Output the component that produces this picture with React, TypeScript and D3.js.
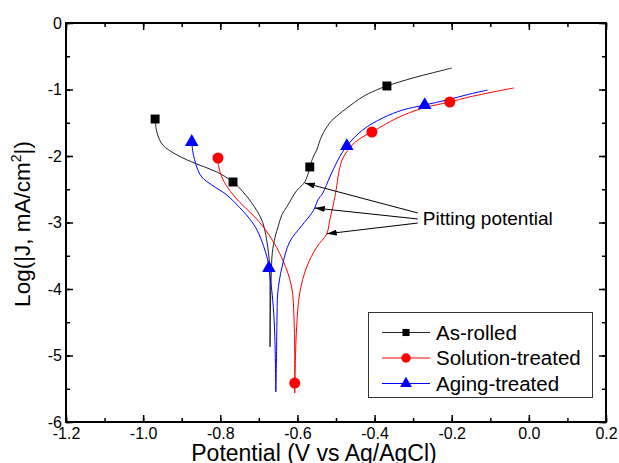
import * as d3 from 'd3';
import React, { useRef, useEffect } from 'react';

const width = 619;
const height = 463;
const margin = {top: 23, right: 13, bottom: 41, left: 66};

// potential (V vs Ag/AgCl), log|J|
const asRolledCathodic = [[-0.969,-1.444],[-0.964,-1.65],[-0.949,-1.835],[-0.912,-1.985],[-0.861,-2.12],[-0.809,-2.24],[-0.767,-2.391],[-0.741,-2.54],[-0.712,-2.76],[-0.690,-3.0],[-0.677,-3.37],[-0.672,-3.67],[-0.671,-4.2],[-0.671,-4.87]];
const asRolledAnodic = [[-0.671,-4.87],[-0.670,-4.3],[-0.668,-3.8],[-0.665,-3.45],[-0.658,-3.22],[-0.650,-3.06],[-0.640,-2.88],[-0.627,-2.76],[-0.614,-2.63],[-0.602,-2.52],[-0.588,-2.44],[-0.580,-2.38],[-0.572,-2.26],[-0.568,-2.165],[-0.558,-2.0],[-0.550,-1.91],[-0.537,-1.70],[-0.516,-1.50],[-0.494,-1.38],[-0.472,-1.28],[-0.431,-1.11],[-0.400,-1.02],[-0.368,-0.947],[-0.301,-0.827],[-0.250,-0.75],[-0.200,-0.677]];

const solutionCathodic = [[-0.806,-2.03],[-0.804,-2.165],[-0.796,-2.316],[-0.780,-2.481],[-0.749,-2.70],[-0.710,-2.92],[-0.672,-3.20],[-0.638,-3.564],[-0.615,-3.97],[-0.609,-4.42],[-0.607,-4.92],[-0.607,-5.414],[-0.607,-5.564]];
const solutionAnodic = [[-0.607,-5.564],[-0.605,-5.0],[-0.602,-4.57],[-0.594,-4.06],[-0.576,-3.67],[-0.550,-3.37],[-0.524,-3.17],[-0.516,-2.96],[-0.503,-2.62],[-0.490,-2.17],[-0.482,-2.03],[-0.470,-1.92],[-0.452,-1.80],[-0.430,-1.71],[-0.407,-1.639],[-0.342,-1.43],[-0.275,-1.28],[-0.205,-1.188],[-0.153,-1.11],[-0.039,-0.977]];

const agingCathodic = [[-0.874,-1.789],[-0.871,-1.94],[-0.861,-2.165],[-0.848,-2.316],[-0.822,-2.436],[-0.783,-2.586],[-0.749,-2.78],[-0.718,-2.99],[-0.700,-3.17],[-0.679,-3.52],[-0.674,-3.684],[-0.664,-4.165],[-0.659,-4.66],[-0.656,-5.549]];
const agingAnodic = [[-0.656,-5.549],[-0.654,-4.9],[-0.653,-4.47],[-0.651,-4.06],[-0.640,-3.67],[-0.620,-3.29],[-0.589,-3.05],[-0.563,-2.86],[-0.555,-2.78],[-0.547,-2.66],[-0.534,-2.556],[-0.516,-2.316],[-0.495,-2.06],[-0.472,-1.85],[-0.431,-1.609],[-0.379,-1.429],[-0.327,-1.308],[-0.270,-1.233],[-0.213,-1.158],[-0.153,-1.068],[-0.107,-1.008]];

const asRolledMarkers = [[-0.969,-1.444],[-0.767,-2.391],[-0.568,-2.165],[-0.368,-0.947]];
const solutionMarkers = [[-0.806,-2.03],[-0.607,-5.414],[-0.407,-1.639],[-0.205,-1.188]];
const agingMarkers = [[-0.874,-1.789],[-0.674,-3.684],[-0.472,-1.85],[-0.270,-1.233]];

const seriesNames = ["As-rolled", "Solution-treated", "Aging-treated"];
const seriesColors = ["#222", "#ff0000", "#0000ff"];
const markerColors = ["#000", "#ff0000", "#0000ff"];
const seriesSymbols = [d3.symbolSquare, d3.symbolCircle, d3.symbolTriangle];

const pittingTips = [[-0.581,-2.406],[-0.555,-2.782],[-0.524,-3.17]];
const pittingTails = [[-0.288,-2.857],[-0.288,-2.947],[-0.288,-3.008]];
const pittingLabel = "Pitting potential";
const pittingLabelAt = [-0.275,-3.038];

const xDomain = [-1.2, 0.2];
const yDomain = [-6, 0];

const font = "'Liberation Sans', Arial, sans-serif";

function App() {
    const ref = useRef(null);

    useEffect(() => {
        const svg = d3.select(ref.current);
        svg.selectAll("*").remove();

        const x = d3.scaleLinear().domain(xDomain).range([margin.left, width - margin.right]);
        const y = d3.scaleLinear().domain(yDomain).range([height - margin.bottom, margin.top]);

        const line = d3.line()
            .x(d => x(d[0]))
            .y(d => y(d[1]))
            .curve(d3.curveCatmullRom.alpha(0.5));

        const branches = [
            [asRolledCathodic, asRolledAnodic],
            [solutionCathodic, solutionAnodic],
            [agingCathodic, agingAnodic]
        ];
        const markers = [asRolledMarkers, solutionMarkers, agingMarkers];
        const symSizes = [80, 95, 80];

        branches.forEach((b, i) => {
            b.forEach(part => {
                svg.append("path")
                    .attr("d", line(part))
                    .attr("fill", "none")
                    .attr("stroke", seriesColors[i])
                    .attr("stroke-width", 1);
            });
        });

        markers.forEach((m, i) => {
            svg.selectAll(".m" + i)
                .data(m)
                .enter()
                .append("path")
                .attr("d", d3.symbol().type(seriesSymbols[i]).size(symSizes[i]))
                .attr("transform", d => "translate(" + x(d[0]) + "," + y(d[1]) + ")")
                .attr("fill", markerColors[i]);
        });

        // arrows for pitting potential
        svg.append("defs").append("marker")
            .attr("id", "arrow")
            .attr("viewBox", "0 0 10 6")
            .attr("refX", 10)
            .attr("refY", 3)
            .attr("markerUnits", "userSpaceOnUse")
            .attr("markerWidth", 10)
            .attr("markerHeight", 6)
            .attr("orient", "auto")
            .append("path")
            .attr("d", "M0,0L10,3L0,6Z")
            .attr("fill", "#000");

        pittingTips.forEach((t, i) => {
            svg.append("line")
                .attr("x1", x(pittingTails[i][0]))
                .attr("y1", y(pittingTails[i][1]))
                .attr("x2", x(t[0]))
                .attr("y2", y(t[1]))
                .attr("stroke", "#000")
                .attr("stroke-width", 1)
                .attr("marker-end", "url(#arrow)");
        });

        svg.append("text")
            .attr("x", x(pittingLabelAt[0]))
            .attr("y", y(pittingLabelAt[1]))
            .attr("font-family", font)
            .attr("font-size", 19)
            .text(pittingLabel);

        // legend
        const lg = svg.append("g").attr("transform", "translate(368,312)");
        lg.append("rect")
            .attr("x", 0.5).attr("y", 0.5)
            .attr("width", 224).attr("height", 85)
            .attr("fill", "white")
            .attr("stroke", "#333")
            .attr("stroke-width", 1);
        seriesNames.forEach((name, i) => {
            const ly = 20.5 + i * 25.5;
            lg.append("line")
                .attr("x1", 14).attr("x2", 62)
                .attr("y1", ly).attr("y2", ly)
                .attr("stroke", seriesColors[i])
                .attr("stroke-width", 1);
            lg.append("path")
                .attr("d", d3.symbol().type(seriesSymbols[i]).size([50, 70, 60][i]))
                .attr("transform", "translate(38," + ly + ")")
                .attr("fill", markerColors[i]);
            lg.append("text")
                .attr("x", 68)
                .attr("y", ly + 7)
                .attr("font-family", font)
                .attr("font-size", 20.5)
                .text(name);
        });

        // frame
        svg.append("rect")
            .attr("x", x(xDomain[0]))
            .attr("y", y(yDomain[1]))
            .attr("width", x(xDomain[1]) - x(xDomain[0]))
            .attr("height", y(yDomain[0]) - y(yDomain[1]))
            .attr("fill", "none")
            .attr("stroke", "#000")
            .attr("stroke-width", 2);

        const xMajor = x.ticks(7);
        const xMinor = x.ticks(14);
        const yMajor = y.ticks(6);
        const yMinor = y.ticks(12);

        const styleAxis = g => {
            g.select(".domain").remove();
            g.selectAll("line").attr("stroke", "#000").attr("stroke-width", 1.5);
            g.selectAll("text")
                .attr("font-family", font)
                .attr("font-size", 16)
                .attr("fill", "#000");
        };

        const bottom = height - margin.bottom;
        svg.append("g")
            .attr("transform", "translate(0," + bottom + ")")
            .call(d3.axisBottom(x).tickValues(xMinor).tickSize(-4).tickFormat(() => ""))
            .call(styleAxis);
        svg.append("g")
            .attr("transform", "translate(0," + bottom + ")")
            .call(d3.axisBottom(x).tickValues(xMajor).tickSize(-7).tickPadding(6).tickFormat(d => (+d).toFixed(1)))
            .call(styleAxis);
        svg.append("g")
            .attr("transform", "translate(0," + margin.top + ")")
            .call(d3.axisTop(x).tickValues(xMinor).tickSize(-4).tickFormat(() => ""))
            .call(styleAxis);
        svg.append("g")
            .attr("transform", "translate(0," + margin.top + ")")
            .call(d3.axisTop(x).tickValues(xMajor).tickSize(-7).tickFormat(() => ""))
            .call(styleAxis);

        svg.append("g")
            .attr("transform", "translate(" + margin.left + ",0)")
            .call(d3.axisLeft(y).tickValues(yMinor).tickSize(-4).tickFormat(() => ""))
            .call(styleAxis);
        svg.append("g")
            .attr("transform", "translate(" + margin.left + ",0)")
            .call(d3.axisLeft(y).tickValues(yMajor).tickSize(-7).tickPadding(4).tickFormat(d => String(Math.round(d))))
            .call(styleAxis);
        svg.append("g")
            .attr("transform", "translate(" + (width - margin.right) + ",0)")
            .call(d3.axisRight(y).tickValues(yMinor).tickSize(-4).tickFormat(() => ""))
            .call(styleAxis);
        svg.append("g")
            .attr("transform", "translate(" + (width - margin.right) + ",0)")
            .call(d3.axisRight(y).tickValues(yMajor).tickSize(-7).tickFormat(() => ""))
            .call(styleAxis);

        // axis titles
        svg.append("text")
            .attr("x", 314)
            .attr("y", 461)
            .attr("text-anchor", "middle")
            .attr("font-family", font)
            .attr("font-size", 23)
            .text("Potential (V vs Ag/AgCl)");

        const yt = svg.append("text")
            .attr("transform", "translate(30,224) rotate(-90)")
            .attr("text-anchor", "middle")
            .attr("font-family", font)
            .attr("font-size", 22.5);
        yt.append("tspan").text("Log(|J, mA/cm");
        yt.append("tspan").attr("font-size", 14).attr("dy", -9).text("2");
        yt.append("tspan").attr("dy", 9).text("|)");
    }, []);

    return (
        <svg ref={ref} width={width} height={height}
            style={{position: "absolute", left: 0, top: 0, background: "white"}}>
        </svg>
    );
}

export default App;
